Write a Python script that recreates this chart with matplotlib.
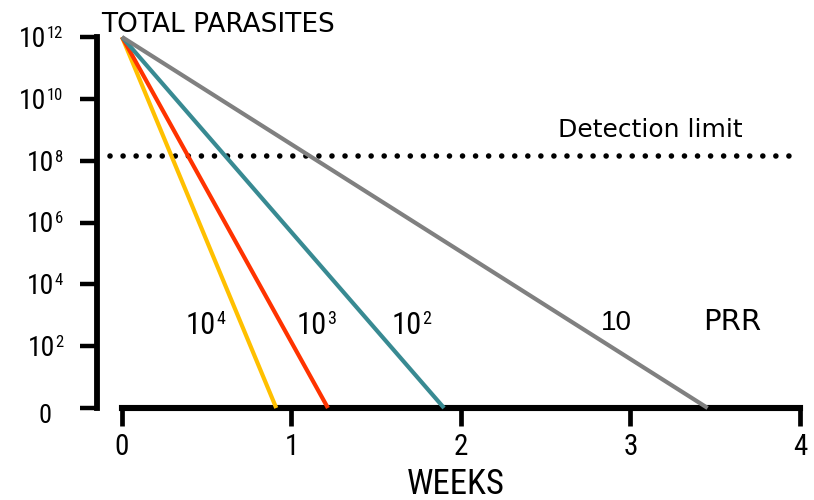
import os
import matplotlib
matplotlib.use('Agg')
import matplotlib.pyplot as plt
from matplotlib import font_manager as fm
from matplotlib.offsetbox import TextArea, HPacker, AnnotationBbox

plt.rcParams['font.family'] = ['DejaVu Sans']

# Parasite load at start of treatment (log10)
start_log = 12
# Parasite reduction ratio per cycle (as exponent of 10) and weeks to clear all parasites
prr_exponents = [4, 3, 2, 1]
clear_weeks = [0.91, 1.215, 1.90, 3.455]
line_colors = ['#FFC000', '#FF3300', '#388A92', '#808080']
# Microscopy detection limit (log10 parasites)
detection_log = 8.15

y_ticks = [0, 2, 4, 6, 8, 10, 12]
x_ticks = [0, 1, 2, 3, 4]
x_tick_labels = ['0', '1', '2', '3', '4']


def narrow_font_file():
    """Return a regular-weight condensed sans font file, or Liberation Sans."""
    prefer = ['liberation sans narrow', 'arial narrow', 'roboto condensed',
              'noto sans', 'dejavu sans', 'open sans']
    found = []
    for e in fm.fontManager.ttflist:
        tag = (e.name + ' ' + os.path.basename(e.fname)).lower()
        narrow = ('narrow' in tag or 'condensed' in tag
                  or str(e.stretch) in ('condensed', 'semi-condensed'))
        if not narrow or e.style != 'normal':
            continue
        if e.weight not in (400, 'normal', 'regular', 'book'):
            continue
        if any(k in tag for k in ('mono', 'serif', 'display', 'cjk', 'bold',
                                  'italic', 'light', 'thin', 'medium', 'black',
                                  'extra', 'ultra')):
            continue
        rank = next((i for i, p in enumerate(prefer) if p in tag), len(prefer))
        found.append(('semi' in tag, rank, e.fname))
    if found:
        return sorted(found)[0][2]
    return fm.findfont(fm.FontProperties(family='Liberation Sans'))


NARROW = narrow_font_file()


def nfp(size):
    return fm.FontProperties(fname=NARROW, size=size)


W, H = 814, 500
fig = plt.figure(figsize=(W / 100, H / 100), dpi=100)
ax = fig.add_axes([122 / W, 1 - 408 / H, (800 - 122) / W, (408 - 37) / H])
ax.set_xlim(0, 4)
ax.set_ylim(0, 12)


def power_text(exp, xy, coords, align, base, sup):
    """Draw '10' with a raised exponent as a packed pair of texts."""
    parts = [TextArea('10', textprops=dict(fontproperties=nfp(base))),
             TextArea(str(exp), textprops=dict(fontproperties=nfp(sup)))]
    box = HPacker(children=parts, align='top', pad=0, sep=0)
    ab = AnnotationBbox(box, xy, xycoords=coords, box_alignment=align,
                        frameon=False, pad=0, annotation_clip=False)
    ax.add_artist(ab)


# Decline of total parasites for each PRR
for w, c in zip(clear_weeks, line_colors):
    ax.plot([0, w], [start_log, 0], color=c, lw=3.0,
            solid_capstyle='butt', clip_on=False, zorder=3)

# Detection limit as a row of round dots
ax.axhline(detection_log, xmin=-0.018, xmax=0.996, color='black', lw=4.0,
           linestyle=(0, (0.01, 2.34)), dash_capstyle='round', clip_on=False)

# Axes styling
for s in ('top', 'right'):
    ax.spines[s].set_visible(False)
ax.spines['left'].set_position(('outward', 18))
ax.spines['left'].set_linewidth(4.2)
ax.spines['bottom'].set_linewidth(4.4)

ax.set_yticks(y_ticks)
ax.set_yticklabels([])
ax.tick_params(axis='y', direction='out', length=12, width=3.2)
ylab_x = (63 - 122) / 678
for t in y_ticks:
    if t == 0:
        ax.text((45 - 122) / 678, t - 0.25, '0', fontproperties=nfp(19),
                transform=ax.get_yaxis_transform(), ha='center', va='center')
    else:
        power_text(t, (ylab_x, t - 0.08), ('axes fraction', 'data'),
                   (1, 0.5), 20, 12)

ax.set_xticks(x_ticks)
ax.set_xticklabels(x_tick_labels, fontproperties=nfp(21))
ax.tick_params(axis='x', direction='out', length=13, width=3.4, pad=5)

fig.text(456 / W, 1 - 494 / H, 'WEEKS', fontproperties=nfp(25),
         ha='center', va='baseline')
fig.text(101 / W, 1 - 32 / H, 'TOTAL PARASITES', fontsize=19,
         ha='left', va='baseline')
fig.text(558 / W, 1 - 137 / H, 'Detection limit', fontsize=18,
         ha='left', va='baseline')

# PRR labels next to each line
label_x = [186, 297, 392]
for lx, e in zip(label_x, prr_exponents[:3]):
    power_text(e, (lx, H - 325), 'figure pixels', (0, 0.5), 22, 13)
fig.text(601 / W, 1 - 330 / H, str(10 ** prr_exponents[3]),
         family=['Liberation Sans', 'DejaVu Sans'], fontsize=20,
         ha='left', va='baseline')
fig.text(703 / W, 1 - 330 / H, 'PRR', fontsize=21, ha='left', va='baseline')

fig.savefig('out.png', dpi=100)
